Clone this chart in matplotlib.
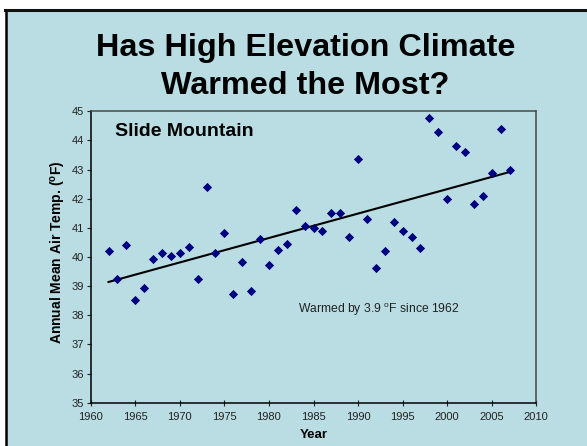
import matplotlib
matplotlib.use("Agg")
import matplotlib.pyplot as plt
import matplotlib.patches as mpatches
import numpy as np

plt.rcParams['font.family'] = ['Liberation Sans', 'DejaVu Sans']
plt.rcParams['mathtext.fontset'] = 'custom'
plt.rcParams['mathtext.rm'] = 'Liberation Sans'
plt.rcParams['mathtext.bf'] = 'Liberation Sans:bold'

# --- DATA ---
years = np.arange(1962, 2008)
temps = [40.22, 39.23, 40.42, 38.53, 38.93, 39.94, 40.13, 40.03, 40.13, 40.33,
         39.23, 42.41, 40.13, 40.82, 38.73, 39.83, 38.83, 40.63, 39.73, 40.23,
         40.44, 41.62, 41.05, 40.98, 40.90, 41.50, 41.50, 40.70, 43.35, 41.30,
         39.61, 40.21, 41.20, 40.90, 40.70, 40.31, 44.77, 44.29, 42.00, 43.80,
         43.59, 41.81, 42.09, 42.89, 44.40, 42.99]
x_ticks = list(range(1960, 2011, 5))
y_ticks = list(range(35, 46))

bg = '#B9DDE2'

fig = plt.figure(figsize=(5.87, 4.46), dpi=100)
fig.patch.set_facecolor('white')

# slide background + border
W, H = 587, 446
fig.patches.append(mpatches.Rectangle((6 / W, 0), 1, 1 - 10 / H, transform=fig.transFigure,
                                      facecolor=bg, edgecolor='none', zorder=-5))
fig.add_artist(plt.Line2D([6 / W, 6 / W], [0, 1 - 9.5 / H], transform=fig.transFigure,
                          color='black', lw=1.8, zorder=-4))
fig.add_artist(plt.Line2D([5 / W, 1], [1 - 9.8 / H, 1 - 9.8 / H], transform=fig.transFigure,
                          color='#111111', lw=2.2, zorder=-4))

fig.text(0.52, 1 - 48 / H, 'Has High Elevation Climate', ha='center', va='center',
         fontsize=23.3, fontweight='bold')
fig.text(0.52, 1 - 86 / H, 'Warmed the Most?', ha='center', va='center',
         fontsize=23.3, fontweight='bold')

ax = fig.add_axes([90.7 / W, 1 - 402.7 / H, (536.3 - 90.7) / W, (402.7 - 111.3) / H])
ax.set_facecolor(bg)

ax.scatter(years, temps, marker='D', s=22, color='#000080', zorder=3, linewidths=0)

# linear trend line
slope, intercept = np.polyfit(years, temps, 1)
xs = np.array([years[0], years[-1]])
ax.plot(xs, slope * xs + intercept, color='black', lw=1.5, zorder=2)

ax.set_xlim(1960, 2010)
ax.set_ylim(35, 45)
ax.set_xticks(x_ticks)
ax.set_yticks(y_ticks)
ax.tick_params(axis='x', direction='inout', length=5, labelsize=8, pad=4, colors='#222222')
ax.tick_params(axis='y', direction='out', length=3, labelsize=8, pad=2, colors='#222222')

for s in ['left', 'bottom']:
    ax.spines[s].set_color('black')
    ax.spines[s].set_linewidth(1.1)
for s in ['top', 'right']:
    ax.spines[s].set_color('#4a4a4a')
    ax.spines[s].set_linewidth(1.1)

ax.set_xlabel('Year', fontsize=9.5, fontweight='bold', labelpad=5)
ax.set_ylabel(r'Annual Mean Air Temp. ($\mathbf{^{o}}$F)', fontsize=10, fontweight='bold')
ax.yaxis.set_label_coords(-0.052, 0.515)

ax.text(115, H - 132, 'Slide Mountain', transform=None, fontsize=14, fontweight='bold',
        ha='left', va='center')
ax.text(0.466, 0.318, r'Warmed by 3.9 $^{\mathrm{o}}$F since 1962', transform=ax.transAxes,
        fontsize=8.7, ha='left', va='center', color='#222222')

fig.savefig('out.png', dpi=100, facecolor=fig.get_facecolor())
